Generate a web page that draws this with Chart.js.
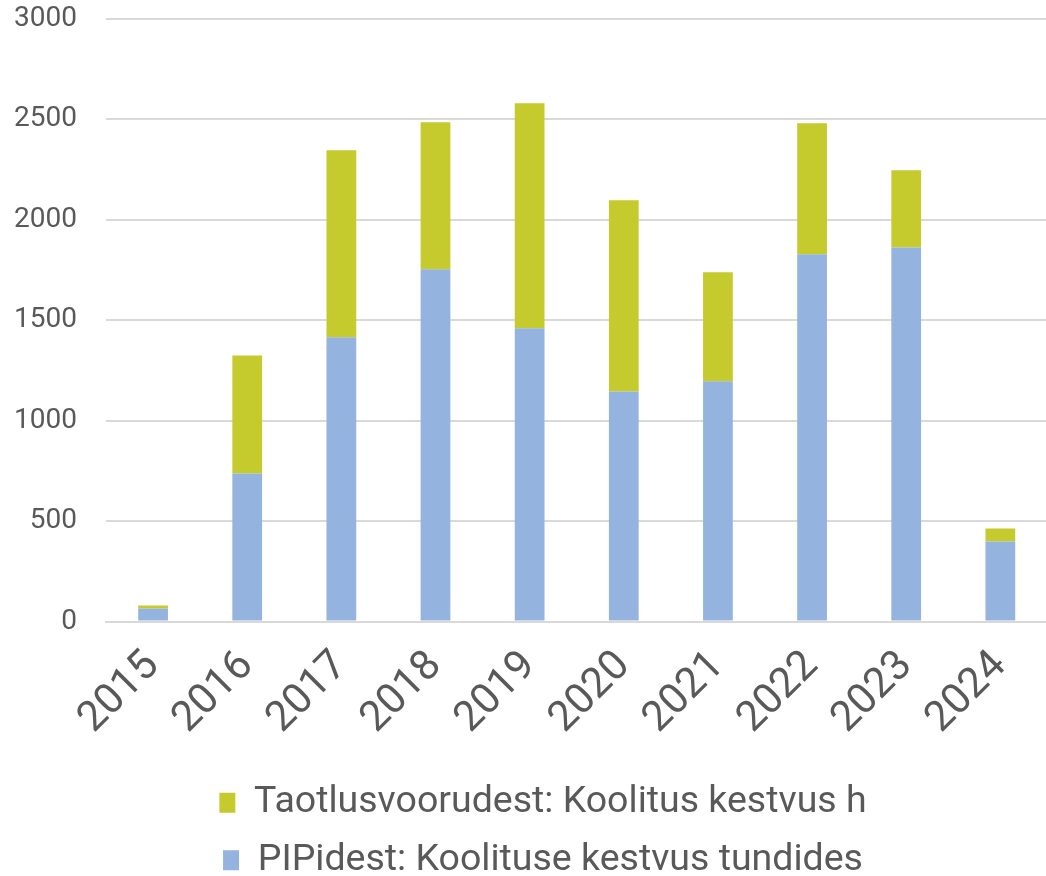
<!DOCTYPE html>
<html>
<head>
<meta charset="utf-8">
<script src="https://cdn.jsdelivr.net/npm/chart.js@4"></script>
<style>
  html, body { margin: 0; padding: 0; background: #fff; overflow: hidden; }
  #wrap { width: 1056px; height: 876px; position: relative; }
</style>
</head>
<body>
<div id="wrap"><canvas id="chart"></canvas></div>
<script>
const years = ['2015', '2016', '2017', '2018', '2019', '2020', '2021', '2022', '2023', '2024'];
const pipHours = [65, 737, 1415, 1754, 1460, 1146, 1196, 1829, 1863, 399];
const roundHours = [15, 588, 932, 732, 1121, 952, 543, 652, 384, 64];
const yTicks = [0, 500, 1000, 1500, 2000, 2500, 3000];

const textColor = '#595959';
const gridColor = '#d9d9d9';

Chart.defaults.font.family = 'Roboto, sans-serif';
Chart.defaults.color = textColor;
Chart.defaults.animation = false;

// legend in the original sits a little right of the canvas centre
const nudgeLegend = {
  id: 'nudgeLegend',
  afterLayout(chart) {
    chart.legend.left += 9;
    chart.legend.right += 9;
  },
};

const ctx = document.getElementById('chart').getContext('2d');
new Chart(ctx, {
  type: 'bar',
  plugins: [nudgeLegend],
  data: {
    labels: years,
    datasets: [
      {
        label: 'PIPidest: Koolituse kestvus tundides',
        data: pipHours,
        backgroundColor: '#95b3df',
        barPercentage: 1,
        categoryPercentage: 0.316,
      },
      {
        label: 'Taotlusvoorudest: Koolitus kestvus h',
        data: roundHours,
        backgroundColor: '#c5cb2d',
        barPercentage: 1,
        categoryPercentage: 0.316,
      },
    ],
  },
  options: {
    responsive: true,
    maintainAspectRatio: false,
    layout: { padding: { top: 0, right: 0, bottom: -13, left: 12 } },
    scales: {
      x: {
        stacked: true,
        grid: { display: false, drawTicks: false },
        border: { color: gridColor, width: 2 },
        ticks: {
          font: { size: 42 },
          color: textColor,
          minRotation: 45,
          maxRotation: 45,
          padding: 20,
        },
      },
      y: {
        stacked: true,
        min: 0,
        max: 3000,
        afterBuildTicks: (axis) => {
          axis.ticks = yTicks.map((v) => ({ value: v }));
        },
        afterFit: (axis) => {
          // keep the label column and top of the plot where the original has them
          axis.width = 94;
          axis.paddingTop = 19;
        },
        grid: { color: gridColor, lineWidth: 2, drawTicks: false },
        border: { display: false },
        ticks: {
          font: { size: 28 },
          color: textColor,
          padding: 29,
          callback: (v) => String(v),
        },
      },
    },
    plugins: {
      tooltip: { enabled: false },
      legend: {
        position: 'bottom',
        reverse: true,
        labels: {
          font: { size: 37.5 },
          color: textColor,
          boxWidth: 16,
          boxHeight: 20,
          padding: 20,
        },
      },
    },
  },
});
</script>
</body>
</html>
